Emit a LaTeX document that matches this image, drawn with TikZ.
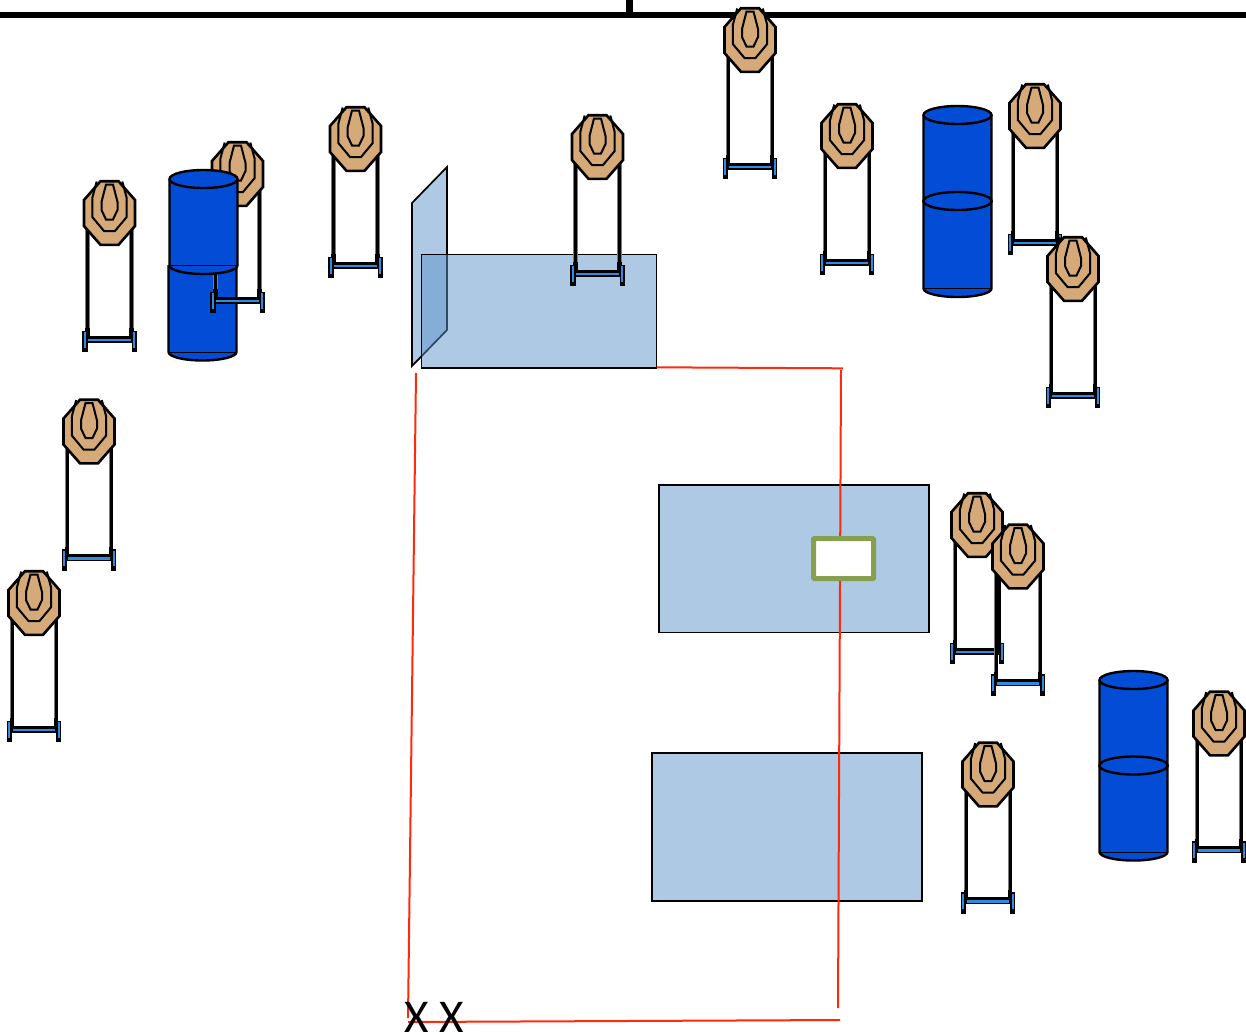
\documentclass[tikz,border=0pt]{standalone}
\usepackage{fontspec}
\setmainfont{Carlito}
\definecolor{drumblue}{RGB}{2,76,214}
\definecolor{tan}{RGB}{214,170,120}
\definecolor{panelblue}{RGB}{91,147,201}
\definecolor{padblue}{RGB}{173,201,228}
\definecolor{footblue}{RGB}{46,140,225}
\definecolor{legrey}{RGB}{125,125,125}
\definecolor{redline}{RGB}{255,42,10}
\definecolor{olive}{RGB}{135,160,79}
\tikzset{
  x=1pt,y=-1pt,
  outl/.style={draw=black,line width=2.6pt,line join=miter},
  ring/.style={draw=black,line width=2pt,line join=miter},
  padbox/.style={draw=black,line width=1.7pt,fill=padblue},
  redl/.style={draw=redline,line width=2pt},
  foot/.style={draw=black,line width=1.6pt,fill=footblue},
  targetstand/.pic={
    % legs
    \foreach \lx in {-22,22}{
      \draw[legrey,line width=4.4pt] (\lx,5) -- (\lx,118);
      \draw[black,line width=3pt] (\lx,5) -- (\lx,118);
      \fill[black] (\lx-2.2,115) rectangle (\lx+2.2,124);
    }
    % cross bar
    \draw[foot] (-22,124.8) rectangle (22,129);
    \draw[black,line width=2.4pt] (-22,124) -- (22,124);
    % feet
    \draw[foot] (-26.5,118.5) rectangle (-22.8,138);
    \draw[foot] (22.8,118.5) rectangle (26.5,138);
    \fill[black] (-27.3,134.5) rectangle (-22,139.2);
    \fill[black] (22,134.5) rectangle (27.3,139.2);
    % octagon
    \draw[outl,fill=tan] (-9,-31.8) -- (9,-31.8) -- (25.5,-13) -- (25.5,13) -- (9,31.8) -- (-9,31.8) -- (-25.5,13) -- (-25.5,-13) -- cycle;
    \draw[ring] (-12.8,-31.5) -- (-17.2,-15) -- (-17.2,4) -- (-5.5,18) -- (5.5,18) -- (17.2,4) -- (17.2,-15) -- (12.8,-31.5);
    \draw[ring] (-3.5,-28.5) -- (3.5,-28.5) -- (8,-11) -- (8,-3) -- (3.5,6.5) -- (-3.5,6.5) -- (-8,-3) -- (-8,-11) -- cycle;
  },
}
\newcommand{\drumbody}[3]{% left x, top-centre y, bottom-centre y
  \fill[drumblue] (#1,#2) -- (#1+68,#2) -- (#1+68,#3) arc[start angle=0,end angle=180,x radius=34,y radius=8.5] -- cycle;
  \draw[black,line width=.7pt] (#1,#3) -- (#1+68,#3);
  \draw[black,line width=2.4pt] (#1,#2) -- (#1,#3) arc[start angle=180,end angle=0,x radius=34,y radius=8.5] -- (#1+68,#2);
}
\newcommand{\drumtop}[2]{%
  \draw[black,line width=2.4pt,fill=drumblue] (#1+34,#2) ellipse[x radius=34,y radius=9];
}
\begin{document}
\begin{tikzpicture}
\useasboundingbox (0,0) rectangle (1246,1034);
\clip (0,0) rectangle (1246,1034);
% top bar
\draw[black,line width=6.2pt] (0,15) -- (1246,15);
\draw[black,line width=6.2pt] (629.5,0) -- (629.5,15);

% left group
\pic (t1) at (109.5,213) {targetstand};
\drumbody{168.5}{265}{352}
\pic (t2) at (237.5,174) {targetstand};
\drumbody{169.5}{179}{265.5}
\drumtop{169.5}{179}
\pic (t3) at (355.5,139) {targetstand};
\pic (t9) at (89,431.5) {targetstand};
\pic (t10) at (34,603) {targetstand};

% panel and pads
\fill[panelblue,fill opacity=.5] (412,203) -- (447,167) -- (447,330) -- (412,366) -- cycle;
\draw[black,line width=1.7pt,line join=miter] (412,203) -- (447,167) -- (447,330) -- (412,366) -- cycle;
\fill[panelblue,fill opacity=.5] (421.5,254.5) rectangle (656.5,368);
\draw[black,line width=1.9pt] (421.5,254.5) rectangle (656.5,368);
\pic (t4) at (597.5,147) {targetstand};
\node[padbox,minimum width=270pt,minimum height=147.5pt,inner sep=0pt,anchor=north west] (pad2) at (658,484) {};
\node[padbox,minimum width=270pt,minimum height=148pt,inner sep=0pt,anchor=north west] (pad3) at (651,752) {};

% red course lines
\coordinate (r1) at (656.5,367.3);
\coordinate (r2) at (843,368.3);
\coordinate (r3) at (841,370);
\coordinate (r4) at (838,1008);
\coordinate (r5) at (416,373);
\coordinate (r6) at (408,1018);
\coordinate (r7) at (408,1022);
\coordinate (r8) at (840,1020);
\draw[redl] (r1) -- (r2);
\draw[redl] (r3) -- (r4);
\draw[redl] (r5) -- (r6);
\draw[redl] (r7) -- (r8);

% olive box
\node[draw=olive,line width=5pt,fill=white,rounded corners=.8pt,minimum width=60pt,minimum height=40pt,inner sep=0pt] (gate) at (843.5,558.5) {};

% top targets
\pic (t5) at (750,40) {targetstand};
\pic (t6) at (847,136) {targetstand};

% right drum
\drumbody{923.5}{115}{201}
\drumtop{923.5}{115}
\drumbody{923.5}{201}{288.5}
\drumtop{923.5}{201}
\pic (t7) at (1035,116) {targetstand};
\pic (t8) at (1073,269) {targetstand};

\pic (t11) at (977,525) {targetstand};
\pic (t12) at (1018,556.5) {targetstand};
\pic (t13) at (988,774.5) {targetstand};

% lower right drum
\drumbody{1099.5}{680}{765.5}
\drumtop{1099.5}{680}
\drumbody{1099.5}{765.5}{852}
\drumtop{1099.5}{765.5}
\pic (t14) at (1219,723.5) {targetstand};

\node[font=\fontsize{47pt}{47pt}\selectfont,inner sep=0pt,anchor=base west,text=black] (xx) at (404.5,1032.5) {X X};
\end{tikzpicture}
\end{document}
